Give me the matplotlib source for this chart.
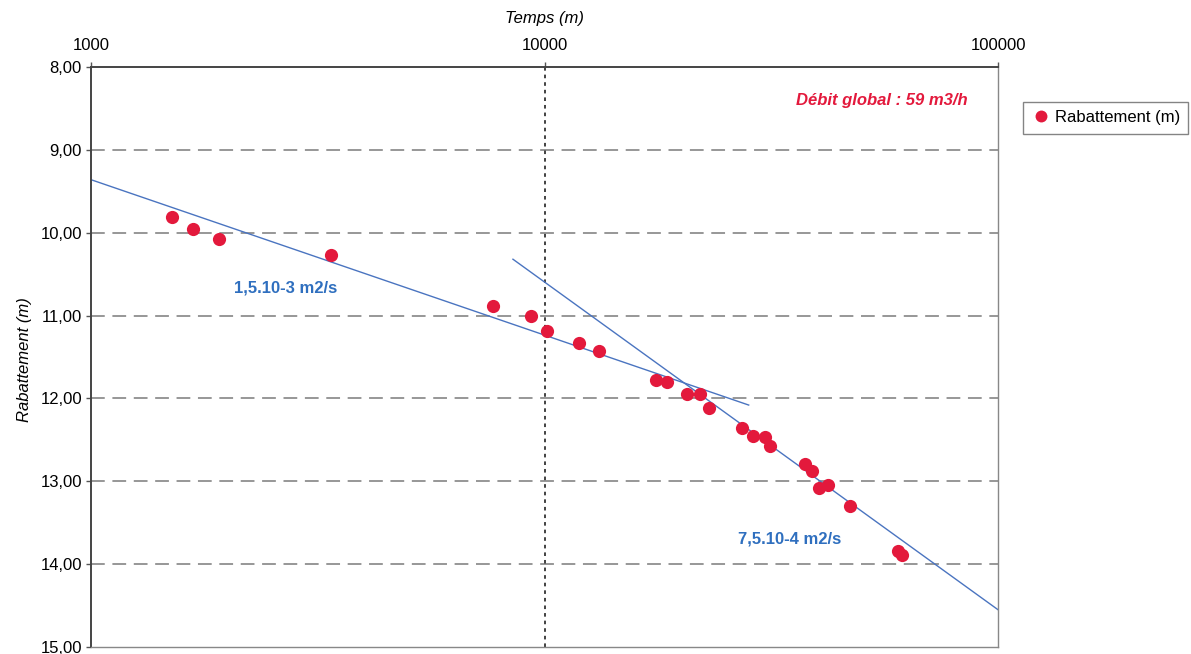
import matplotlib
matplotlib.use("Agg")
import matplotlib.pyplot as plt
from matplotlib.ticker import FixedLocator, FixedFormatter, NullLocator

plt.rcParams['font.family'] = ['Liberation Sans', 'DejaVu Sans']

# Data: time (min) and drawdown (m)
temps = [1510, 1680, 1915, 3390, 7700, 9330, 10130, 11910, 13180,
         17610, 18650, 20590, 22030, 23020, 27310, 28870, 30630, 31430,
         37530, 38950, 40360, 42250, 47180, 60290, 61320]
rabattement = [9.81, 9.96, 10.07, 10.27, 10.88, 11.00, 11.19, 11.33, 11.43,
               11.78, 11.80, 11.95, 11.95, 12.11, 12.36, 12.45, 12.46, 12.57,
               12.79, 12.88, 13.08, 13.04, 13.30, 13.84, 13.89]

# Fitted straight lines (Jacob)
fit1_x = [1000, 28200]
fit1_y = [9.36, 12.08]
fit2_x = [8520, 100000]
fit2_y = [10.32, 14.55]

xticks = [1000, 10000, 100000]
xtick_labels = ['1000', '10000', '100000']
yticks = [8, 9, 10, 11, 12, 13, 14, 15]
ytick_labels = ['8,00', '9,00', '10,00', '11,00', '12,00', '13,00', '14,00', '15,00']

fig = plt.figure(figsize=(11.91, 6.54), dpi=100)
ax = fig.add_axes([91/1191, 1 - 647/654, (998-91)/1191, (647-67)/654])

ax.set_xscale('log')
ax.set_xlim(1000, 100000)
ax.set_ylim(15, 8)

# grid lines
for yv in yticks[1:-1]:
    ax.axhline(yv, color='#7a7a7a', lw=1.1, dashes=(9, 5), zorder=1)
ax.axvline(10000, color='#333333', lw=1.3, dashes=(2, 2.2), zorder=1)

ax.plot(fit1_x, fit1_y, color='#4a74c0', lw=1.0, zorder=2)
ax.plot(fit2_x, fit2_y, color='#4a74c0', lw=1.0, zorder=2)
ax.plot(temps, rabattement, 'o', color='#e3193c', ms=9.5, mec='none',
        label='Rabattement (m)', zorder=3)

ax.xaxis.tick_top()
ax.xaxis.set_major_locator(FixedLocator(xticks))
ax.xaxis.set_major_formatter(FixedFormatter(xtick_labels))
ax.xaxis.set_minor_locator(NullLocator())
ax.set_yticks(yticks)
ax.set_yticklabels(ytick_labels)
ax.tick_params(axis='both', labelsize=12, color='#555555', length=3.5, width=1)
ax.tick_params(axis='x', pad=6.5)
ax.tick_params(axis='y', pad=3)

for s in ['left', 'top']:
    ax.spines[s].set_color('#444444')
    ax.spines[s].set_linewidth(1.4)
for s in ['right', 'bottom']:
    ax.spines[s].set_color('#888888')
    ax.spines[s].set_linewidth(1.0)

ax.xaxis.set_label_position('top')
ax.set_xlabel('Temps (m)', fontsize=12, style='italic')
ax.xaxis.set_label_coords(0.5, (647 - 19) / 580)
ax.xaxis.label.set_va('center')
ax.set_ylabel('Rabattement (m)', fontsize=12, style='italic')
ax.yaxis.set_label_coords((25 - 91) / 907, (647 - 360) / 580)
ax.yaxis.label.set_va('center')

ax.text((968 - 91) / 907, (647 - 101) / 580, 'Débit global : 59 m3/h',
        transform=ax.transAxes, ha='right', va='center', color='#e3193c',
        fontsize=12, fontweight='bold', style='italic')
ax.text(2680, 10.67, '1,5.10-3 m2/s', ha='center', va='center',
        color='#2f6fbf', fontsize=12, fontweight='bold')
ax.text(34770, 13.70, '7,5.10-4 m2/s', ha='center', va='center',
        color='#2f6fbf', fontsize=12, fontweight='bold')

leg = fig.legend(loc='upper left', bbox_to_anchor=(1023/1191, 1 - 102/654),
                 borderaxespad=0, fontsize=12, frameon=True, fancybox=False,
                 handletextpad=0.2, handlelength=1.2, borderpad=0.5,
                 markerscale=0.9)
leg.get_frame().set_edgecolor('#666666')
leg.get_frame().set_linewidth(1.0)

fig.savefig('out.png', dpi=100)
